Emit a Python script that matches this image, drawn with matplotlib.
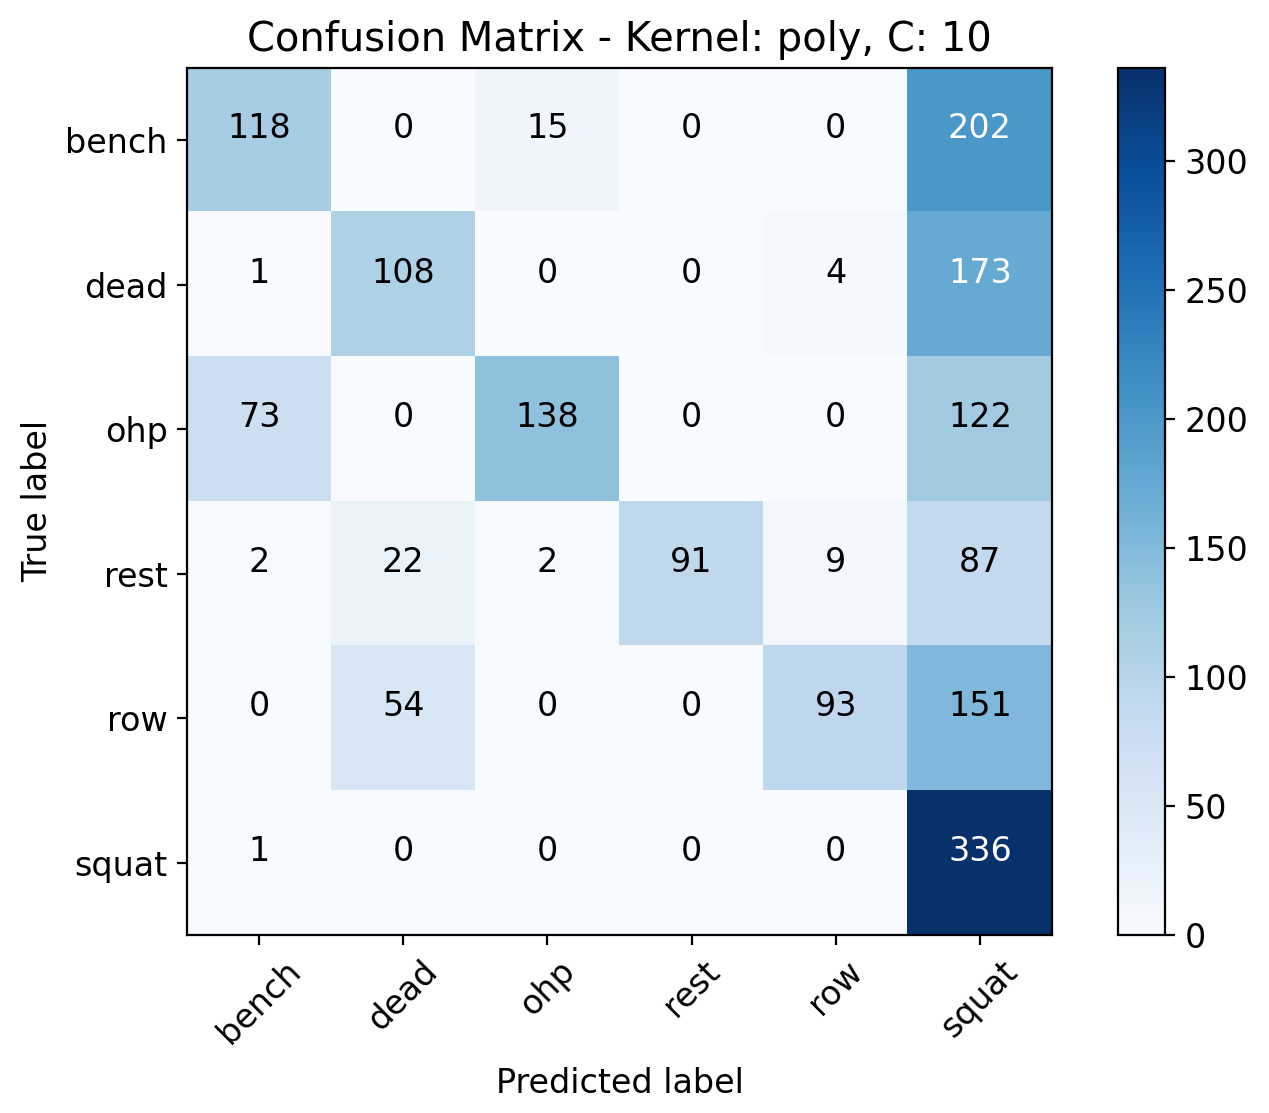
import matplotlib
matplotlib.use('Agg')
import matplotlib.pyplot as plt
import numpy as np

# Dados da matriz de confusão
classes = ['bench', 'dead', 'ohp', 'rest', 'row', 'squat']
cm = np.array([
    [118, 0, 15, 0, 0, 202],
    [1, 108, 0, 0, 4, 173],
    [73, 0, 138, 0, 0, 122],
    [2, 22, 2, 91, 9, 87],
    [0, 54, 0, 0, 93, 151],
    [1, 0, 0, 0, 0, 336],
])

plt.rcParams['font.size'] = 12

fig = plt.figure(figsize=(6.345, 5.565), dpi=200)
ax = fig.add_axes([0.1474, 0.16, 0.6816, 0.779])
cax = fig.add_axes([0.881, 0.16, 0.037, 0.779])

im = ax.imshow(cm, interpolation='nearest', cmap=plt.cm.Blues, aspect='auto')
fig.colorbar(im, cax=cax)

ax.set_title('Confusion Matrix - Kernel: poly, C: 10')
ticks = np.arange(len(classes))
ax.set_xticks(ticks)
ax.set_xticklabels(classes, rotation=45)
ax.set_yticks(ticks)
ax.set_yticklabels(classes)

# Texto nas células (ligeiramente acima do centro)
thresh = cm.max() / 2.
for i in range(cm.shape[0]):
    for j in range(cm.shape[1]):
        ax.text(j, i - 0.08, format(cm[i, j], 'd'),
                ha='center', va='center',
                color='white' if cm[i, j] > thresh else 'black')

ax.set_ylabel('True label')
ax.set_xlabel('Predicted label', labelpad=6)

fig.savefig('out.png', dpi=200)
